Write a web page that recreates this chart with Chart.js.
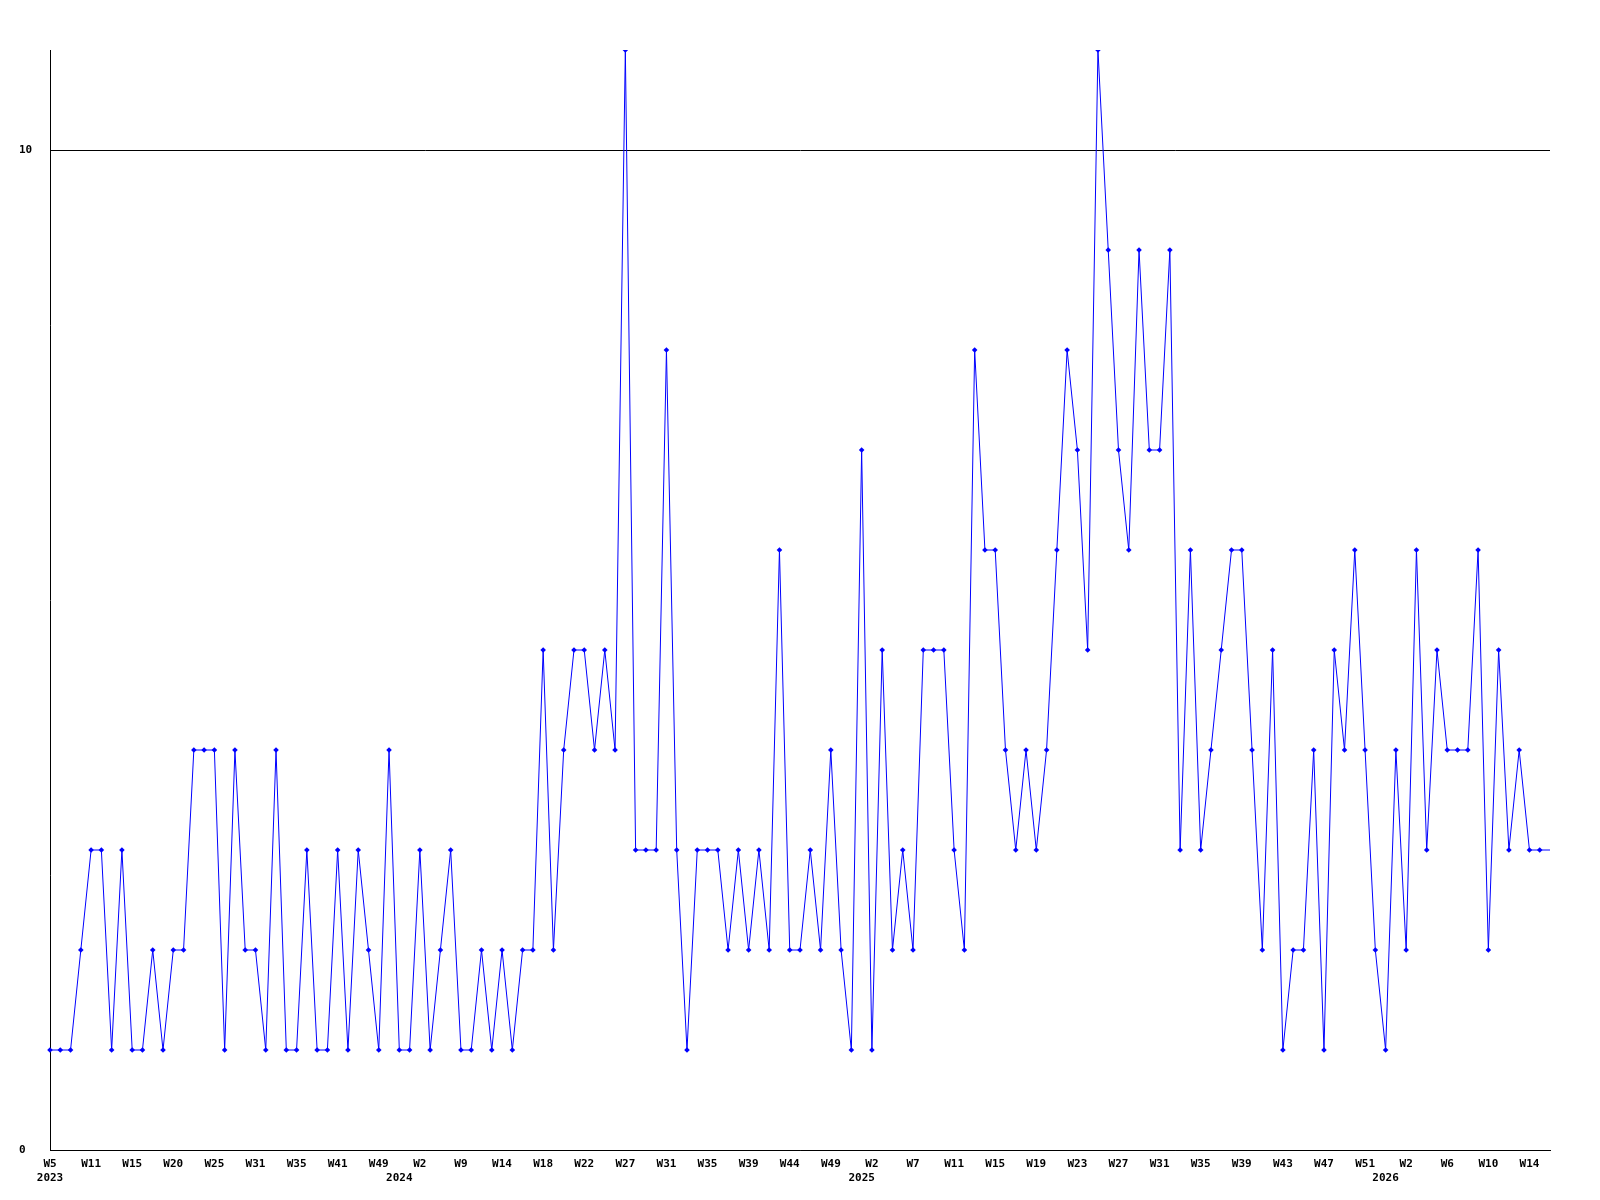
<!DOCTYPE html>
<html>
<head>
<meta charset="utf-8">
<script src="https://cdn.jsdelivr.net/npm/chart.js@4.4.1/dist/chart.umd.min.js"></script>
<style>
  body { margin: 0; background: #fff; }
  canvas { display: block; }
</style>
</head>
<body>
<canvas id="chartCanvas" width="1600" height="1200"></canvas>
<script>
// DATA
// weekly counts, one value per plotted week (weeks with no value are not on the axis)
const counts = [
  1, 1, 1, 2, 3, 3, 1, 3, 1, 1, 2, 1, 2, 2, 4, 4, 4, 1, 4, 2,
  2, 1, 4, 1, 1, 3, 1, 1, 3, 1, 3, 2, 1, 4, 1, 1, 3, 1, 2, 3,
  1, 1, 2, 1, 2, 1, 2, 2, 5, 2, 4, 5, 5, 4, 5, 4, 11, 3, 3, 3,
  8, 3, 1, 3, 3, 3, 2, 3, 2, 3, 2, 6, 2, 2, 3, 2, 4, 2, 1, 7,
  1, 5, 2, 3, 2, 5, 5, 5, 3, 2, 8, 6, 6, 4, 3, 4, 3, 4, 6, 8,
  7, 5, 11, 9, 7, 6, 9, 7, 7, 9, 3, 6, 3, 4, 5, 6, 6, 4, 2, 5,
  1, 2, 2, 4, 1, 5, 4, 6, 4, 2, 1, 4, 2, 6, 3, 5, 4, 4, 4, 6,
  2, 5, 3, 4, 3, 3, 3
];

// tick labels shown under every 4th week
const weekTicks = [
  'W5', 'W11', 'W15', 'W20', 'W25', 'W31', 'W35', 'W41', 'W49', 'W2', 'W9', 'W14',
  'W18', 'W22', 'W27', 'W31', 'W35', 'W39', 'W44', 'W49', 'W2', 'W7', 'W11', 'W15', 'W19',
  'W23', 'W27', 'W31', 'W35', 'W39', 'W43', 'W47', 'W51', 'W2', 'W6', 'W10', 'W14'
];
// year printed on the second line, under the first week of each year (point index)
const yearTicks = { 0: '2023', 34: '2024', 79: '2025', 130: '2026' };

const yTicks = [0, 10];
const tickEvery = 4;

// build category labels from the tick arrays
const labels = counts.map((c, i) => {
  let wk = '';
  if (i % tickEvery === 0 && i / tickEvery < weekTicks.length) wk = weekTicks[i / tickEvery];
  if (yearTicks[i]) return [wk, yearTicks[i]];
  return wk;
});

// last value is the running week: drawn as line only
const radii = counts.map((c, i) => i === counts.length - 1 ? 0 : 2.8);

const font = { family: "'DejaVu Sans Mono', monospace", size: 11, weight: 'bold', lineHeight: 1.3 };

const config = {
  type: 'line',
  data: {
    labels: labels,
    datasets: [{
      data: counts,
      borderColor: '#0000ff',
      backgroundColor: '#0000ff',
      borderWidth: 1,
      tension: 0,
      pointStyle: 'rectRot',
      pointRadius: radii,
      pointBorderWidth: 0,
      pointBackgroundColor: '#0000ff'
    }]
  },
  options: {
    responsive: false,
    animation: false,
    layout: { padding: { top: 50, right: 50, left: 19, bottom: 0 } },
    plugins: { legend: { display: false }, tooltip: { enabled: false } },
    scales: {
      x: {
        offset: false,
        grid: { display: false, drawTicks: false },
        border: { display: true, color: '#000', width: 1 },
        ticks: {
          autoSkip: false,
          maxRotation: 0,
          minRotation: 0,
          padding: 7,
          color: '#000',
          font: font
        },
        afterFit: (s) => { s.height = 50; }
      },
      y: {
        min: 0,
        max: 11,
        grid: { color: '#000', lineWidth: 1, drawTicks: false },
        border: { display: true, color: '#000', width: 1 },
        ticks: {
          crossAlign: 'far',
          color: '#000',
          font: font
        },
        afterBuildTicks: (s) => { s.ticks = yTicks.map(v => ({ value: v })); },
        afterFit: (s) => { s.width = 31; }
      }
    }
  }
};

new Chart(document.getElementById('chartCanvas'), config);
</script>
</body>
</html>
